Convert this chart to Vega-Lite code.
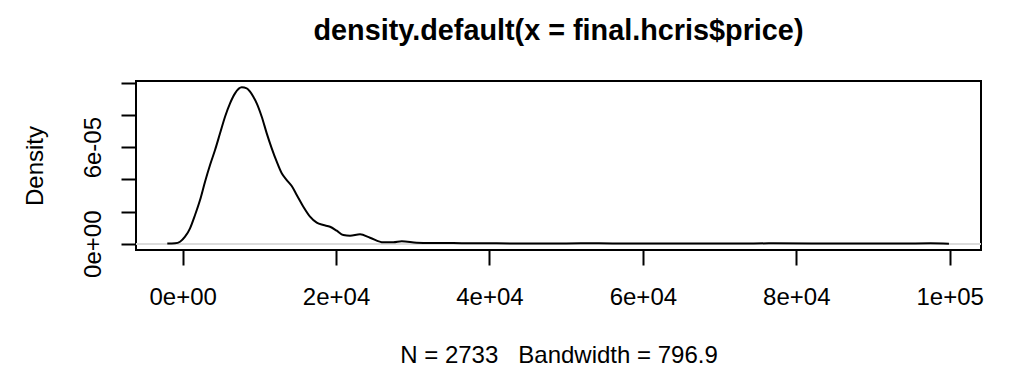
{
  "$schema": "https://vega.github.io/schema/vega-lite/v6.json",
  "autosize": {"type": "none"},
  "padding": {"left": 136, "top": 81, "right": 28, "bottom": 116},
  "width": 845,
  "height": 169,
  "background": "white",
  "config": {
    "font": "Liberation Sans",
    "view": {"stroke": "black", "strokeWidth": 2},
    "axis": {"grid": false, "domain": false, "tickColor": "black", "tickWidth": 2, "tickSize": 15, "labelFont": "Liberation Sans", "labelFontSize": 24, "labelColor": "black", "labelOverlap": false, "labelFlush": false, "labelBound": false, "titleFont": "Liberation Sans", "titleFontSize": 24, "titleFontWeight": "normal", "titleColor": "black"}
  },
  "title": {"text": "density.default(x = final.hcris$price)", "fontSize": 28.8, "fontWeight": "bold", "font": "Liberation Sans", "color": "black", "anchor": "middle", "frame": "group", "baseline": "alphabetic", "offset": 12},
  "data": {"values": [
    {"price": -2000, "density": 1e-7},
    {"price": -991, "density": 2.5e-7},
    {"price": -339, "density": 1.24e-6},
    {"price": 313, "density": 4.35e-6},
    {"price": 965, "density": 9.57e-6},
    {"price": 1617, "density": 1.783e-5},
    {"price": 2268, "density": 2.715e-5},
    {"price": 2920, "density": 3.852e-5},
    {"price": 3572, "density": 4.89e-5},
    {"price": 4224, "density": 5.822e-5},
    {"price": 4876, "density": 6.859e-5},
    {"price": 5527, "density": 7.891e-5},
    {"price": 6179, "density": 8.723e-5},
    {"price": 6831, "density": 9.344e-5},
    {"price": 7705, "density": 9.717e-5},
    {"price": 8357, "density": 9.655e-5},
    {"price": 8787, "density": 9.444e-5},
    {"price": 9217, "density": 9.133e-5},
    {"price": 9660, "density": 8.723e-5},
    {"price": 10312, "density": 7.891e-5},
    {"price": 10964, "density": 6.859e-5},
    {"price": 11616, "density": 5.927e-5},
    {"price": 12267, "density": 5.095e-5},
    {"price": 12919, "density": 4.374e-5},
    {"price": 13571, "density": 3.958e-5},
    {"price": 14223, "density": 3.585e-5},
    {"price": 14875, "density": 3.026e-5},
    {"price": 15735, "density": 2.299e-5},
    {"price": 16609, "density": 1.678e-5},
    {"price": 17482, "density": 1.305e-5},
    {"price": 18343, "density": 1.162e-5},
    {"price": 19216, "density": 1.056e-5},
    {"price": 20089, "density": 8.08e-6},
    {"price": 20950, "density": 5.41e-6},
    {"price": 21823, "density": 4.97e-6},
    {"price": 23127, "density": 5.84e-6},
    {"price": 24431, "density": 3.73e-6},
    {"price": 26165, "density": 8.7e-7},
    {"price": 27468, "density": 8.7e-7},
    {"price": 28563, "density": 1.49e-6},
    {"price": 30519, "density": 6.2e-7},
    {"price": 32253, "density": 4.3e-7},
    {"price": 35290, "density": 4.3e-7},
    {"price": 37467, "density": 2.5e-7},
    {"price": 40948, "density": 2.5e-7},
    {"price": 45289, "density": 1.2e-7},
    {"price": 50000, "density": 1.5e-7},
    {"price": 54000, "density": 3.0e-7},
    {"price": 58000, "density": 1.2e-7},
    {"price": 65000, "density": 1.0e-7},
    {"price": 72000, "density": 1.0e-7},
    {"price": 77000, "density": 2.5e-7},
    {"price": 82000, "density": 1.0e-7},
    {"price": 90000, "density": 0.8e-7},
    {"price": 97500, "density": 2.2e-7},
    {"price": 99900, "density": 0.5e-7}
  ]},
  "layer": [
    {
      "mark": {"type": "rule", "color": "#dcdcdc", "strokeWidth": 1},
      "encoding": {"y": {"datum": 0, "type": "quantitative", "scale": {"domain": [-3.9e-6, 1.011e-4], "nice": false, "zero": false},
        "axis": {"values": [0, 0.00002, 0.00004, 0.00006, 0.00008, 0.0001], "labelAngle": 270, "labelAlign": "center", "labelBaseline": "alphabetic", "labelPadding": 21,
            "labelExpr": "datum.value == 0 ? '0e+00' : (abs(datum.value - 0.00006) < 1e-9 ? '6e-05' : '')",
            "title": "Density", "titleX": -94, "titleY": 84.5, "titleAngle": 270, "titleAlign": "center", "titleBaseline": "alphabetic"}}}
    },
    {
      "mark": {"type": "line", "color": "black", "strokeWidth": 2, "interpolate": "monotone"},
      "encoding": {
        "x": {"field": "price", "type": "quantitative", "scale": {"domain": [-6080, 104080], "nice": false, "zero": false},
          "axis": {"values": [0, 20000, 40000, 60000, 80000, 100000], "labelBaseline": "alphabetic", "labelPadding": 39,
            "labelExpr": "datum.value == 0 ? '0e+00' : datum.value == 100000 ? '1e+05' : format(datum.value / 10000, 'd') + 'e+04'",
            "title": "N = 2733\u00a0\u00a0\u00a0Bandwidth = 796.9", "titleX": 422.5, "titleY": 112, "titleAlign": "center", "titleBaseline": "alphabetic"}},
        "y": {"field": "density", "type": "quantitative", "scale": {"domain": [-3.9e-6, 1.011e-4], "nice": false, "zero": false},
          "axis": {"values": [0, 0.00002, 0.00004, 0.00006, 0.00008, 0.0001], "labelAngle": 270, "labelAlign": "center", "labelBaseline": "alphabetic", "labelPadding": 21,
            "labelExpr": "datum.value == 0 ? '0e+00' : (abs(datum.value - 0.00006) < 1e-9 ? '6e-05' : '')",
            "title": "Density", "titleX": -94, "titleY": 84.5, "titleAngle": 270, "titleAlign": "center", "titleBaseline": "alphabetic"}}
      }
    }
  ]
}
